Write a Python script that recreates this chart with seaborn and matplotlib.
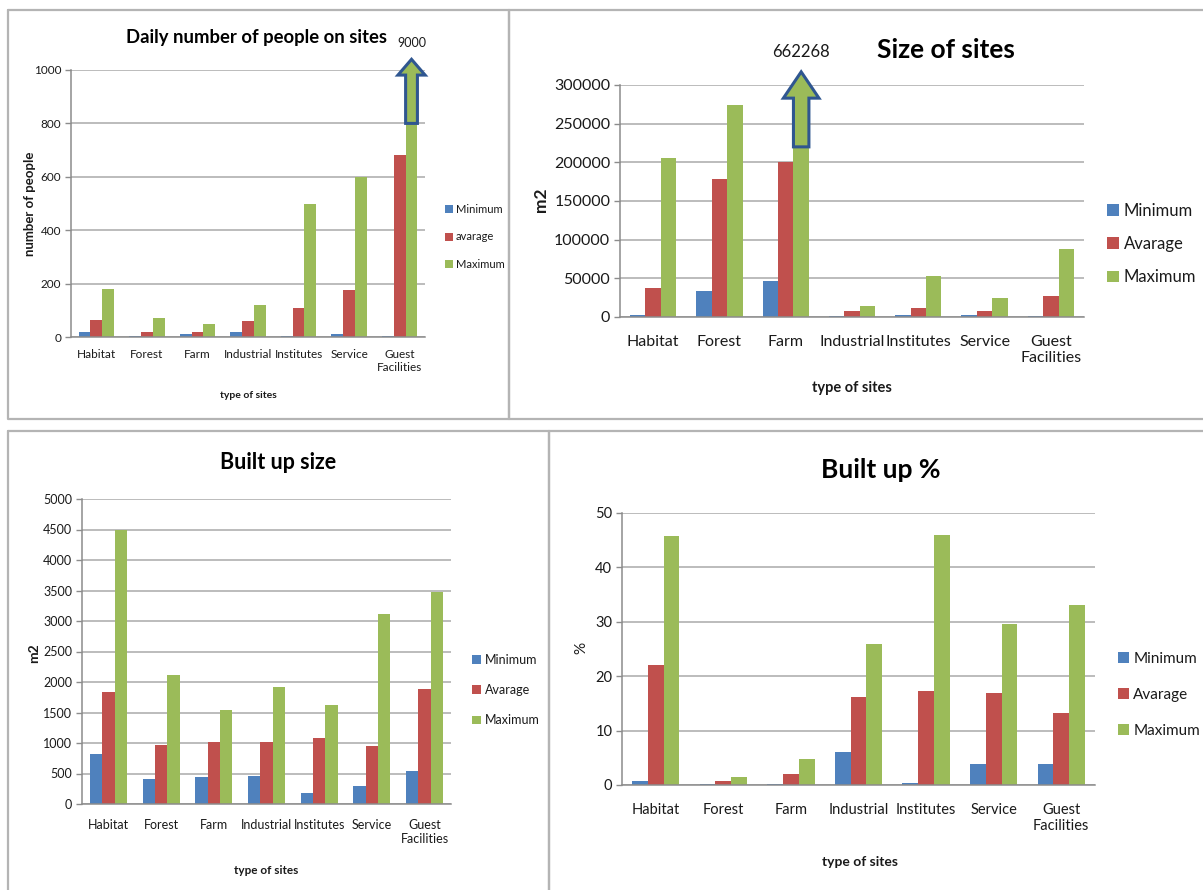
import numpy as np
import pandas as pd
import matplotlib
matplotlib.use("Agg")
import matplotlib.pyplot as plt
import matplotlib.transforms as mtransforms
from matplotlib.lines import Line2D
from matplotlib.patches import Polygon
import seaborn as sns

# ---------------------------------------------------------------- data
categories = ["Habitat", "Forest", "Farm", "Industrial", "Institutes",
              "Service", "Guest\nFacilities"]

people_min = [20, 3, 10, 20, 5, 12, 5]
people_avg = [65, 20, 20, 60, 110, 175, 680]
people_max = [180, 70, 50, 120, 500, 600, 9000]

site_min = [2000, 34000, 47000, 1000, 2000, 2000, 1000]
site_avg = [37000, 178000, 200000, 8000, 12000, 8000, 27000]
site_max = [205000, 274000, 662268, 14000, 53000, 24000, 88000]

built_min = [820, 410, 450, 460, 180, 300, 540]
built_avg = [1840, 960, 1020, 1020, 1080, 950, 1890]
built_max = [4500, 2110, 1540, 1920, 1630, 3110, 3470]

pct_min = [0.7, 0.1, 0.1, 6.1, 0.4, 3.8, 3.8]
pct_avg = [22.0, 0.7, 2.0, 16.2, 17.2, 16.9, 13.2]
pct_max = [45.8, 1.4, 4.7, 26.0, 45.9, 29.6, 33.1]

series_people = ["Minimum", "avarage", "Maximum"]
series_other = ["Minimum", "Avarage", "Maximum"]

bar_colors = ["#4F81BD", "#C0504D", "#9BBB59"]

# ---------------------------------------------------------------- style
sns.set_theme(style="white")
plt.rcParams["font.family"] = ["Lato", "DejaVu Sans"]
TEXT = "#1a1a1a"
GRID = "#A9A9A9"
AXIS = "#8C8C8C"
FRAME = "#B4B4B4"
ARROW_EDGE = "#2F5690"

W, H = 1203, 890
fig = plt.figure(figsize=(W / 100, H / 100), dpi=100)
fig.patch.set_facecolor("white")


def fx(x):
    return x / W


def fy(y):
    return 1 - y / H


def frame(l, t, r, b):
    xs = [fx(l), fx(r), fx(r), fx(l), fx(l)]
    ys = [fy(t), fy(t), fy(b), fy(b), fy(t)]
    fig.add_artist(Line2D(xs, ys, transform=fig.transFigure,
                          color=FRAME, lw=1.6))


def long_frame(mins, avgs, maxs, labels):
    return pd.DataFrame({
        "site": categories * 3,
        "series": [labels[0]] * 7 + [labels[1]] * 7 + [labels[2]] * 7,
        "value": list(mins) + list(avgs) + list(maxs),
    })


def panel(box, df, labels, ylim, yticks, fs, title, title_xy, title_fs,
          xlabel_xy, xlabel_fs, ylabel, ylabel_xy, ylabel_fs, ylabel_bold,
          legend_xy, legend_fs, legend_sp, cat_pad):
    l, t, r, b = box
    ax = fig.add_axes([fx(l), fy(b), fx(r) - fx(l), fy(t) - fy(b)])
    sns.barplot(data=df, x="site", y="value", hue="series",
                hue_order=labels, palette=bar_colors, saturation=1,
                width=0.7, errorbar=None, linewidth=0, ax=ax)
    ax.set_ylim(*ylim)
    ax.set_yticks(yticks)
    ax.set_yticklabels([str(v) for v in yticks])
    ax.set_xlabel("")
    ax.set_ylabel("")
    ax.set_axisbelow(True)
    ax.yaxis.grid(True, color=GRID, lw=1.1)
    ax.xaxis.grid(False)
    for s in ("top", "right"):
        ax.spines[s].set_visible(False)
    for s in ("left", "bottom"):
        ax.spines[s].set_color(AXIS)
        ax.spines[s].set_linewidth(1.1)
    ax.tick_params(axis="y", length=4, width=1, color=AXIS,
                   labelsize=fs, labelcolor=TEXT, pad=3, left=True)
    ax.tick_params(axis="x", length=0, labelsize=fs, labelcolor=TEXT,
                   pad=cat_pad)
    ax.set_facecolor("white")

    fig.text(fx(title_xy[0]), fy(title_xy[1]), title, ha="center",
             va="center", fontsize=title_fs, fontweight="bold", color="black")
    fig.text(fx(xlabel_xy[0]), fy(xlabel_xy[1]), "type of sites",
             ha="center", va="center", fontsize=xlabel_fs,
             fontweight="bold", color=TEXT)
    fig.text(fx(ylabel_xy[0]), fy(ylabel_xy[1]), ylabel, ha="center",
             va="center", rotation=90, fontsize=ylabel_fs,
             fontweight="bold" if ylabel_bold else "normal", color=TEXT)

    leg = ax.legend(loc="center left",
                    bbox_to_anchor=(fx(legend_xy[0]), fy(legend_xy[1])),
                    bbox_transform=fig.transFigure, frameon=False,
                    fontsize=legend_fs, handlelength=0.7, handleheight=0.7,
                    handletextpad=0.3, labelspacing=legend_sp,
                    borderpad=0, borderaxespad=0)
    for txt in leg.get_texts():
        txt.set_color(TEXT)
    return ax


def overflow_arrow(ax, cat_index, y_bottom, y_head, y_tip, label, label_y,
                   fs):
    """Block arrow over a clipped bar, pointing to its real value."""
    bar = ax.containers[2][cat_index]
    x0 = bar.get_x()
    w = bar.get_width()
    xc = x0 + w / 2
    hw = w * 1.15
    pts = [(x0, y_bottom), (x0 + w, y_bottom), (x0 + w, y_head),
           (xc + hw, y_head), (xc, y_tip), (xc - hw, y_head),
           (x0, y_head)]
    ax.add_patch(Polygon(pts, closed=True, facecolor=bar_colors[2],
                         edgecolor=ARROW_EDGE, lw=2.2, clip_on=False,
                         zorder=5, joinstyle="miter"))
    trans = mtransforms.blended_transform_factory(ax.transData, ax.transAxes)
    ax.text(xc, label_y, label, transform=trans, ha="center",
            va="center", fontsize=fs, color=TEXT)


# ---------------------------------------------------------------- frames
frame(8, 10, 509, 419)
frame(509, 10, 1210, 419)
frame(8, 431, 549, 900)
frame(549, 431, 1210, 900)

# ---------------------------------------------------------------- panels
ax1 = panel((71, 70, 425, 337),
            long_frame(people_min, people_avg, people_max, series_people),
            series_people, (0, 1000), [0, 200, 400, 600, 800, 1000], 8.5,
            "Daily number of people on sites", (256, 38), 13.3,
            (248, 395), 7.5, "number of people", (30, 204), 9.5, True,
            (445, 237), 8, 1.49, 9)
overflow_arrow(ax1, 6, 800, 981, 1040, f"{people_max[6]}", 1.10, 9)

ax2 = panel((620, 85, 1084, 317),
            long_frame(site_min, site_avg, site_max, series_other),
            series_other, (0, 300000),
            [0, 50000, 100000, 150000, 200000, 250000, 300000], 11.5,
            "Size of sites", (946, 50), 19,
            (852, 388), 10.5, "m2", (541, 200), 12.5, True,
            (1107, 244), 12, 1.04, 13)
overflow_arrow(ax2, 2, 220000, 283000, 317000, f"{site_max[2]}", 1.142, 12)

ax3 = panel((82, 499, 451, 804),
            long_frame(built_min, built_avg, built_max, series_other),
            series_other, (0, 5000), list(range(0, 5001, 500)), 9,
            "Built up size", (278, 463), 15.5,
            (266, 871), 8.5, "m2", (34, 653), 10, True,
            (472, 690), 9, 1.47, 11)

ax4 = panel((622, 513, 1095, 785),
            long_frame(pct_min, pct_avg, pct_max, series_other),
            series_other, (0, 50), [0, 10, 20, 30, 40, 50], 10.5,
            "Built up %", (881, 470), 19,
            (860, 862), 10, "%", (581, 648), 11, False,
            (1118, 695), 11, 1.43, 13)

fig.savefig("out.png", dpi=100, facecolor="white")
